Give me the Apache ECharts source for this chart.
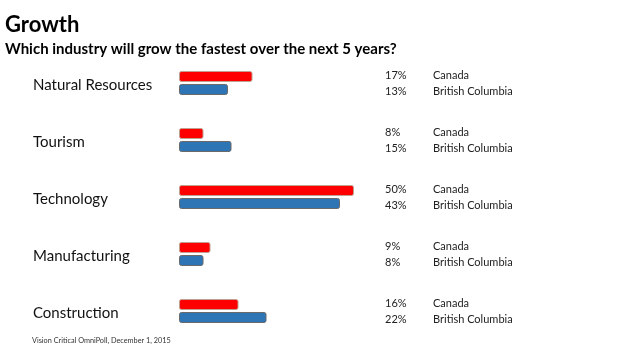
<!DOCTYPE html>
<html><head><meta charset="utf-8">
<script src="https://cdn.jsdelivr.net/npm/echarts@6/dist/echarts.min.js"></script>
<style>html,body{margin:0;padding:0;background:#fff}#c{width:640px;height:360px}</style>
</head><body><div id="c"></div>
<script>
const categories = ['Natural Resources', 'Tourism', 'Technology', 'Manufacturing', 'Construction'];
// bar lengths as drawn in the picture (percent)
const canadaBar = [21, 7, 50, 9, 17];
const bcBar = [14, 15, 46, 7, 25];
// printed values
const canadaLabel = ['17%', '8%', '50%', '9%', '16%'];
const bcLabel = ['13%', '15%', '43%', '8%', '22%'];
const seriesNames = ['Canada', 'British Columbia'];
const titleText = 'Growth';
const subtitleText = 'Which industry will grow the fastest over the next 5 years?';
const sourceText = 'Vision Critical OmniPoll, December 1, 2015';

const FONT = 'Lato, "Liberation Sans", sans-serif';
const chart = echarts.init(document.getElementById('c'), null, {renderer: 'canvas'});
chart.setOption({
  animation: false,
  backgroundColor: '#fff',
  title: [
    {text: titleText, left: 0, top: 9, textStyle: {fontFamily: FONT, fontWeight: 'bold', fontSize: 22, color: '#000'}},
    {text: subtitleText, left: 0, top: 37, textStyle: {fontFamily: FONT, fontWeight: 'bold', fontSize: 15, color: '#000'}},
    {text: sourceText, left: 27, top: 332, textStyle: {fontFamily: FONT, fontWeight: 'normal', fontSize: 7.3, color: '#333'}}
  ],
  grid: {left: 179, width: 350, top: 54.5, height: 285},
  xAxis: {type: 'value', min: 0, max: 100, show: false},
  yAxis: [
    {type: 'category', data: categories, inverse: true,
     axisLine: {show: false}, axisTick: {show: false},
     axisLabel: {align: 'left', margin: 146, fontFamily: FONT, fontSize: 15, color: '#111',
       formatter: function (v) { return '{c|' + v + '}'; },
       rich: {c: {fontFamily: FONT, fontSize: 15, color: '#111', padding: [4, 0, 0, 0]}}}},
    {type: 'category', data: categories, inverse: true, position: 'right', offset: -144,
     axisLine: {show: false}, axisTick: {show: false},
     axisLabel: {align: 'left', margin: 0, fontFamily: FONT, fontSize: 11, color: '#222', lineHeight: 16,
       formatter: function (v, i) {
         return '{p|' + canadaLabel[i] + '}{n|' + seriesNames[0] + '}\n{p|' + bcLabel[i] + '}{n|' + seriesNames[1] + '}';
       },
       rich: {p: {width: 48, fontFamily: FONT, fontSize: 11, color: '#222', lineHeight: 16},
              n: {fontFamily: FONT, fontSize: 11, color: '#222', lineHeight: 16}}}}
  ],
  series: [
    {name: seriesNames[0], type: 'bar', data: canadaBar, barWidth: 11, barGap: '18%',
     itemStyle: {color: '#ff0000', borderColor: '#c0a090', borderWidth: 1, borderRadius: 2}},
    {name: seriesNames[1], type: 'bar', data: bcBar, barWidth: 11,
     itemStyle: {color: '#2e75b6', borderColor: '#6a6a6a', borderWidth: 1, borderRadius: 2}}
  ]
});
</script></body></html>
